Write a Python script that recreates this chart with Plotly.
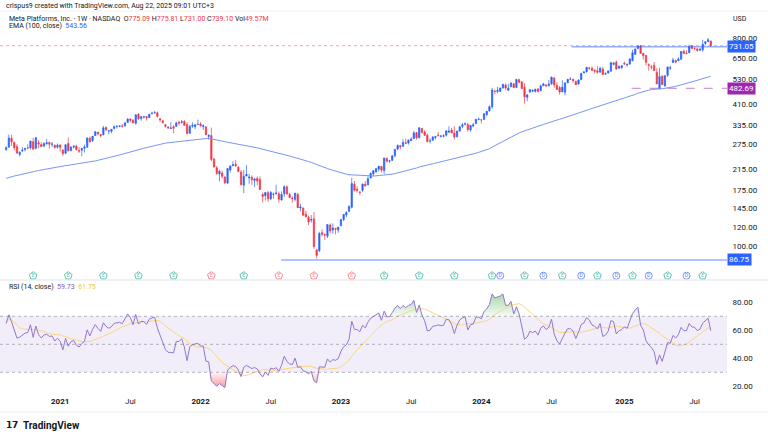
import numpy as np
import pandas as pd
import plotly.graph_objects as go

# weekly bars, META, from the week of 2020-08-17 to the week of 2025-08-18
open_ = [
    262, 268, 293, 281, 270, 249, 258, 262, 266, 266, 283, 265, 280, 275, 271, 277, 281, 276, 273, 268,
    274, 260, 252, 278, 259, 268, 271, 259, 260, 265, 268, 293, 286, 301, 311, 304, 303, 326, 315, 314, 323,
    330, 330, 331, 331, 343, 355, 351, 340, 372, 357, 362, 364, 360, 374, 377, 378, 356, 349, 335, 328, 323,
    329, 330, 343, 343, 346, 336, 308, 330, 329, 336,
    338, 329, 328, 298, 301, 238, 218, 205, 207, 199, 187, 213, 223, 226, 219, 209, 183, 201, 197, 198, 192,
    196, 194, 167, 165, 170, 160, 167, 168, 168, 158, 168, 180, 167, 161, 159, 167, 146, 146, 137, 133, 129,
    131, 96, 95, 114, 112, 110, 123, 117, 119, 117,
    122, 130, 136, 141, 147, 185, 176, 171, 174, 185, 184, 197, 205, 209, 215, 221, 212, 239, 233, 235, 246,
    263, 272, 270, 280, 279, 286, 292, 310, 295, 323, 312, 302, 285, 287, 295, 302, 299, 299, 302, 311, 318,
    309, 297, 315, 330, 337, 336, 318, 331, 339, 353,
    352, 353, 371, 385, 401, 469, 467, 468, 484, 499, 473, 490, 505, 487, 526, 515, 488, 441, 465, 469, 468,
    480, 471, 495, 499, 496, 505, 535, 497, 486, 466, 464, 510, 528, 528, 516, 504, 527, 564, 570, 592, 589,
    578, 575, 567, 585, 556, 562, 573, 613, 627, 590, 594,
    620, 610, 615, 636, 677, 718, 740, 683, 671, 611, 598, 608, 567, 480, 545, 494, 550, 590, 625, 636, 636,
    645, 699, 686, 689, 739, 718, 716, 706, 709, 756, 770, 775.09,
]
high = [
    270, 304, 303, 284, 276, 257, 268, 266, 276, 285, 294, 295, 287, 282, 282, 291, 283, 282, 275, 278,
    275, 263, 275, 295, 270, 273, 275, 268, 266, 275, 295, 298, 300, 314, 313, 305, 331, 330, 318, 321, 333,
    332, 333, 338, 345, 358, 357, 354, 373, 377, 365, 366, 366, 373, 382, 385, 382, 358, 350, 338, 330, 344,
    334, 346, 350, 352, 352, 344, 335, 343, 338, 353,
    344, 337, 331, 305, 326, 241, 222, 214, 212, 200, 217, 223, 233, 236, 222, 213, 213, 224, 205, 202, 197,
    200, 200, 170, 171, 173, 173, 170, 184, 172, 172, 183, 183, 170, 164, 169, 170, 152, 146, 142, 135, 136,
    140, 96, 115, 118, 113, 124, 125, 125, 119, 121,
    130, 137, 141, 150, 197, 191, 181, 172, 186, 191, 200, 208, 212, 218, 222, 221, 241, 242, 236, 247, 263,
    275, 274, 290, 292, 290, 296, 315, 312, 326, 324, 317, 307, 293, 299, 300, 312, 303, 305, 316, 330, 325,
    330, 315, 330, 341, 343, 342, 335, 341, 357, 361,
    352, 375, 385, 407, 485, 476, 490, 486, 503, 507, 505, 515, 507, 531, 531, 515, 509, 453, 479, 479, 480,
    481, 501, 510, 504, 524, 542, 538, 513, 495, 523, 514, 530, 540, 531, 522, 528, 564, 574, 597, 596, 602,
    584, 602, 599, 599, 566, 576, 630, 630, 638, 608, 608,
    630, 620, 652, 711, 720, 740, 741, 690, 672, 620, 610, 628, 590, 593, 550, 550, 600, 605, 655, 644, 658,
    700, 710, 706, 747, 740, 733, 718, 723, 784, 770, 797, 775.81,
]
low = [
    258, 267, 271, 259, 251, 244, 255, 257, 262, 262, 260, 262, 265, 268, 268, 275, 264, 268, 264, 264,
    256, 245, 250, 257, 257, 265, 259, 253, 245, 254, 267, 280, 282, 300, 301, 296, 302, 314, 304, 308, 320,
    323, 327, 326, 330, 342, 344, 340, 335, 352, 349, 357, 350, 358, 373, 376, 360, 344, 339, 326, 322, 322,
    308, 328, 333, 339, 332, 305, 307, 325, 321, 335,
    329, 318, 303, 289, 233, 219, 203, 190, 196, 185, 186, 208, 221, 220, 209, 183, 169, 200, 186, 184, 180,
    183, 175, 154, 157, 155, 158, 160, 167, 154, 157, 163, 166, 161, 154, 156, 146, 141, 135, 133, 123, 126,
    97, 88, 94, 110, 106, 108, 113, 113, 112, 114,
    122, 128, 133, 140, 145, 172, 170, 166, 171, 181, 183, 196, 200, 208, 210, 208, 205, 230, 229, 233, 242,
    260, 262, 270, 277, 275, 286, 291, 289, 292, 307, 300, 281, 278, 286, 290, 299, 295, 295, 298, 310, 308,
    289, 296, 312, 324, 333, 313, 313, 327, 339, 351,
    340, 352, 365, 383, 393, 456, 459, 465, 482, 474, 472, 489, 484, 484, 511, 479, 414, 424, 461, 464, 463,
    464, 470, 494, 490, 491, 499, 485, 475, 453, 465, 450, 508, 525, 510, 499, 501, 522, 560, 565, 580, 575,
    560, 558, 565, 551, 553, 560, 571, 608, 580, 585, 584,
    610, 599, 612, 633, 677, 714, 683, 643, 607, 575, 583, 575, 503, 479, 500, 491, 540, 580, 623, 620, 635,
    643, 681, 680, 686, 712, 710, 697, 700, 695, 745, 768, 731.00,
]
close = [
    266.6, 293.7, 282.7, 266.6, 252.5, 254.8, 259.9, 264.5, 265.9, 284.8, 263.1, 294.7, 276.9, 269.7, 277.8,
    279.7, 275.6, 276.4, 267.4, 273.2,
    267.6, 251.4, 274.5, 258.3, 268.4, 270.5, 261.6, 257.6, 264.3, 268.4, 293.5, 283.0, 298.7, 312.5, 306.2,
    301.1, 325.1, 319.1, 315.9, 320.2, 328.7, 330.4, 331.3, 329.7, 341.4, 354.7, 350.4, 341.7, 369.8, 356.3,
    363.5, 363.2, 359.4, 372.6, 376.3, 378.0, 364.7, 352.7, 343.0, 330.1, 324.8, 324.6, 323.6, 341.1, 340.9,
    345.3, 333.1, 306.8, 329.8, 333.8, 335.2, 336.4,
    331.8, 331.9, 303.2, 301.7, 237.1, 219.6, 206.2, 210.5, 200.1, 187.6, 216.5, 221.8, 224.9, 222.3, 210.2,
    184.1, 200.5, 203.8, 198.6, 193.5, 195.1, 190.8, 175.6, 163.7, 170.2, 160.0, 170.2, 167.5, 169.3, 159.1,
    167.1, 180.5, 168.0, 161.8, 160.3, 169.2, 146.3, 147.3, 135.7, 133.5, 126.8, 130.0, 99.2, 90.8, 113.0,
    112.1, 111.4, 123.5, 115.9, 119.4, 118.0, 120.3,
    130.0, 136.7, 139.4, 148.0, 186.5, 174.2, 173.9, 170.7, 185.3, 181.8, 195.6, 206.0, 211.9, 216.1, 221.5,
    212.9, 240.3, 232.8, 233.8, 245.6, 262.0, 272.6, 268.8, 281.0, 278.5, 287.0, 290.5, 308.9, 294.3, 325.5,
    310.7, 301.6, 283.3, 285.5, 296.4, 297.9, 300.3, 299.1, 300.2, 315.4, 314.7, 308.7, 296.7, 315.0, 328.8,
    335.0, 338.2, 320.0, 332.8, 334.9, 353.3, 354.0,
    351.9, 374.5, 383.5, 401.7, 474.9, 468.1, 473.3, 484.0, 502.3, 483.6, 484.1, 508.0, 485.6, 527.3, 511.9,
    481.1, 443.3, 452.0, 476.2, 471.9, 478.2, 467.0, 494.4, 504.2, 494.8, 504.2, 539.9, 498.9, 476.8, 465.7,
    488.1, 508.5, 528.0, 528.0, 521.3, 500.3, 524.6, 559.1, 567.4, 595.9, 590.0, 576.9, 573.3, 567.2, 589.3,
    554.1, 559.1, 574.3, 623.8, 620.4, 585.3, 599.8, 604.6,
    616.0, 612.3, 647.5, 689.2, 714.5, 736.7, 683.6, 668.2, 625.7, 607.6, 596.3, 576.7, 504.7, 543.6, 501.5,
    547.3, 597.0, 592.5, 640.3, 627.1, 647.5, 697.7, 682.9, 682.4, 733.6, 719.0, 717.5, 704.3, 712.7, 750.0,
    769.3, 785.2, 739.10,
]

# indicator state at the first visible bar
ema_start = 196.0
rsi_gain_start = 6.5
rsi_loss_start = 3.5

earn_weeks = ["2020-10-26", "2021-01-25", "2021-04-26", "2021-07-26", "2021-10-25", "2022-01-31",
              "2022-04-25", "2022-07-25", "2022-10-24", "2023-01-30", "2023-04-24", "2023-07-24",
              "2023-10-23", "2024-01-29", "2024-04-22", "2024-07-29", "2024-10-28", "2025-01-27",
              "2025-04-28", "2025-07-28"]
earn_missed = ["2022-01-31", "2022-07-25", "2022-10-24", "2023-01-30"]
div_weeks = ["2024-02-19", "2024-06-10", "2024-09-16", "2024-12-16", "2025-03-10", "2025-06-16"]

price_ticks = [100, 120, 145, 175, 215, 275, 335, 410, 530, 650, 800]
rsi_ticks = [20, 40, 60, 80]
time_ticks = ["2021-01-04", "2021-07-05", "2022-01-03", "2022-07-04", "2023-01-02", "2023-07-03",
              "2024-01-01", "2024-07-01", "2025-01-06", "2025-07-07"]
time_labels = ["<b>2021</b>", "Jul", "<b>2022</b>", "Jul", "<b>2023</b>", "Jul",
               "<b>2024</b>", "Jul", "<b>2025</b>", "Jul"]

resistance = 731.05
support = 482.69
bottom = 86.75
last_close = 739.10

up = "#2962ff"
down = "#f23645"
txt = "#131722"

dates = pd.date_range("2020-08-17", periods=len(close), freq="7D")
c = np.array(close)

ema = np.zeros(len(c))
ema[0] = ema_start
k = 2 / 101
for i in range(1, len(c)):
    ema[i] = k * c[i] + (1 - k) * ema[i - 1]

ag, al = rsi_gain_start, rsi_loss_start
rsi = [100 - 100 / (1 + ag / al)]
for i in range(1, len(c)):
    d = c[i] - c[i - 1]
    ag = (ag * 13 + max(d, 0)) / 14
    al = (al * 13 + max(-d, 0)) / 14
    rsi.append(100 - 100 / (1 + ag / al))
rsi = np.array(rsi)
rsi_ma = pd.Series(rsi).rolling(14, min_periods=1).mean().values

x_range = ["2020-08-01", "2025-09-29"]

# pixel helpers: plot area spans y 11..395 and x 0..727
def py(p):
    return (395 - p) / 384

def pxx(p):
    return p / 727

fig = go.Figure()

fig.add_trace(go.Scatter(x=x_range, y=[last_close, last_close], mode="lines",
                         line=dict(color="rgba(242,54,69,0.45)", width=1, dash="dot"),
                         hoverinfo="skip", showlegend=False))
fig.add_trace(go.Scatter(x=["2024-08-22", x_range[1]], y=[resistance, resistance], mode="lines",
                         line=dict(color="rgba(41,98,255,0.5)", width=1.5), hoverinfo="skip", showlegend=False))
fig.add_trace(go.Scatter(x=["2025-01-25", x_range[1]], y=[support, support], mode="lines",
                         line=dict(color="rgba(171,71,188,0.7)", width=1, dash="dash"),
                         hoverinfo="skip", showlegend=False))
fig.add_trace(go.Scatter(x=["2022-07-31", x_range[1]], y=[bottom, bottom], mode="lines",
                         line=dict(color="rgba(41,98,255,0.5)", width=1.5), hoverinfo="skip", showlegend=False))

fig.add_trace(go.Scatter(x=dates, y=ema, mode="lines", line=dict(color="#7896f7", width=1),
                         hoverinfo="skip", showlegend=False))

fig.add_trace(go.Candlestick(
    x=dates, open=open_, high=high, low=low, close=close,
    increasing=dict(line=dict(color=up, width=0.7), fillcolor=up),
    decreasing=dict(line=dict(color=down, width=0.7), fillcolor=down),
    whiskerwidth=0, showlegend=False,
))

# earnings / dividend badges
marker_y = 74.1
earn_col = ["#f48a93" if w in earn_missed else "#5fc3b2" for w in earn_weeks]
fig.add_trace(go.Scatter(
    x=earn_weeks, y=[marker_y] * len(earn_weeks), mode="markers+text", text=["E"] * len(earn_weeks),
    textfont=dict(size=5, color=earn_col, family="Roboto"), textposition="middle center",
    marker=dict(symbol="pentagon", size=8, color="white", line=dict(color=earn_col, width=1)),
    cliponaxis=False, hoverinfo="skip", showlegend=False,
))
fig.add_trace(go.Scatter(
    x=div_weeks, y=[marker_y] * len(div_weeks), mode="markers+text", text=["D"] * len(div_weeks),
    textfont=dict(size=5, color="#5b7ff5", family="Roboto"), textposition="middle center",
    marker=dict(symbol="circle", size=7, color="white", line=dict(color="#7b96f7", width=1)),
    cliponaxis=False, hoverinfo="skip", showlegend=False,
))

# RSI pane
fig.add_trace(go.Scatter(x=dates, y=[70] * len(dates), mode="lines", line=dict(width=0),
                         xaxis="x2", yaxis="y2", hoverinfo="skip", showlegend=False))
fig.add_trace(go.Scatter(x=dates, y=np.maximum(rsi, 70), mode="lines", line=dict(width=0),
                         fill="tonexty",
                         fillgradient=dict(type="vertical", start=70, stop=90,
                                           colorscale=[[0, "rgba(76,175,80,0.05)"], [1, "rgba(76,175,80,0.6)"]]),
                         xaxis="x2", yaxis="y2", hoverinfo="skip", showlegend=False))
fig.add_trace(go.Scatter(x=dates, y=[30] * len(dates), mode="lines", line=dict(width=0),
                         xaxis="x2", yaxis="y2", hoverinfo="skip", showlegend=False))
fig.add_trace(go.Scatter(x=dates, y=np.minimum(rsi, 30), mode="lines", line=dict(width=0),
                         fill="tonexty",
                         fillgradient=dict(type="vertical", start=18, stop=30,
                                           colorscale=[[0, "rgba(242,54,69,0.55)"], [1, "rgba(242,54,69,0.05)"]]),
                         xaxis="x2", yaxis="y2", hoverinfo="skip", showlegend=False))
fig.add_trace(go.Scatter(x=dates, y=rsi_ma, mode="lines", line=dict(color="#f9d77e", width=1),
                         xaxis="x2", yaxis="y2", hoverinfo="skip", showlegend=False))
fig.add_trace(go.Scatter(x=dates, y=rsi, mode="lines", line=dict(color="#9575cd", width=1),
                         xaxis="x2", yaxis="y2", hoverinfo="skip", showlegend=False))

shapes = [
    dict(type="rect", xref="paper", yref="y2", x0=0, x1=1, y0=30, y1=70,
         fillcolor="rgba(126,87,194,0.1)", line=dict(width=0), layer="below"),
    dict(type="line", xref="paper", yref="paper", x0=0, x1=768 / 727, y0=py(280), y1=py(280),
         line=dict(color="#e0e3eb", width=1)),
    dict(type="line", xref="paper", yref="paper", x0=0, x1=768 / 727, y0=1, y1=1,
         line=dict(color="#eef0f4", width=1)),
    dict(type="line", xref="paper", yref="paper", x0=0, x1=768 / 727, y0=py(412), y1=py(412),
         line=dict(color="#eef0f4", width=1)),
]
for lv in [70, 50, 30]:
    shapes.append(dict(type="line", xref="paper", yref="y2", x0=0, x1=1, y0=lv, y1=lv,
                       line=dict(color="rgba(120,123,134,0.55)", width=1, dash="dot")))

f = "Roboto"
red = "#f23645"
header = ("Meta Platforms, Inc. · 1W · NASDAQ  "
          f"O<span style='color:{red}'>775.09</span> H<span style='color:{red}'>775.81</span> "
          f"L<span style='color:{red}'>731.00</span> C<span style='color:{red}'>739.10</span> "
          f"Vol<span style='color:{red}'>49.57M</span>")
annotations = [
    dict(text="crispus9 created with TradingView.com, Aug 22, 2025 09:01 UTC+3", x=pxx(4), y=py(6),
         font=dict(size=7, color=txt, family=f)),
    dict(text=header, x=pxx(7), y=py(19), font=dict(size=7, color=txt, family=f)),
    dict(text="EMA (100, close)  <span style='color:#2962ff'>543.56</span>", x=pxx(7), y=py(25.7),
         font=dict(size=7, color=txt, family=f)),
    dict(text="RSI (14, close)  <span style='color:#7e57c2'>59.73</span>  <span style='color:#e8c547'>61.75</span>",
         x=pxx(7), y=py(287), font=dict(size=7, color=txt, family=f)),
    dict(text="USD", x=pxx(731), y=py(19), font=dict(size=7, color=txt, family=f)),
    dict(text="<b>TradingView</b>", x=pxx(21), y=py(425), font=dict(size=10, color=txt, family=f)),
    dict(text="<b>𝟭𝟳</b>", x=pxx(4), y=py(425), font=dict(size=9, color=txt, family=f)),
]
for a in annotations:
    a.update(xref="paper", yref="paper", xanchor="left", yanchor="middle", showarrow=False)

for val, col in [(resistance, "#2962ff"), (support, "#9c27b0"), (bottom, "#2962ff")]:
    annotations.append(dict(text=f"{val:.2f}", xref="paper", yref="y", x=1, y=np.log10(val),
                            xanchor="left", yanchor="middle", showarrow=False, bgcolor=col,
                            borderpad=1, font=dict(size=8, color="white", family=f)))

fig.update_layout(
    width=768, height=438,
    margin=dict(l=0, r=41, t=11, b=43),
    paper_bgcolor="white", plot_bgcolor="white",
    font=dict(family=f, size=8, color=txt),
    hovermode=False,
    shapes=shapes, annotations=annotations,
    xaxis=dict(type="date", range=x_range, domain=[0, 1], anchor="y", showticklabels=False,
               showgrid=False, zeroline=False, rangeslider=dict(visible=False)),
    yaxis=dict(type="log", domain=[py(279), 1], range=[np.log10(71.7), np.log10(1045.5)], side="right",
               tickvals=price_ticks, ticktext=[f"{v:.2f}" for v in price_ticks], showgrid=False,
               zeroline=False, ticks="outside", ticklen=3, tickcolor="rgba(0,0,0,0)",
               tickfont=dict(size=8, color=txt)),
    xaxis2=dict(type="date", range=x_range, domain=[0, 1], anchor="y2", matches="x",
                tickvals=time_ticks, ticktext=time_labels, showgrid=False, zeroline=False,
                tickfont=dict(size=8, color=txt)),
    yaxis2=dict(domain=[0, py(281)], range=[13.8, 95.2], side="right", tickvals=rsi_ticks,
                ticktext=[f"{v:.2f}" for v in rsi_ticks], showgrid=False, zeroline=False,
                ticks="outside", ticklen=3, tickcolor="rgba(0,0,0,0)", tickfont=dict(size=8, color=txt)),
)

fig.write_html("out.html", config={"displayModeBar": False},
               post_script="document.body.style.margin='0';")
